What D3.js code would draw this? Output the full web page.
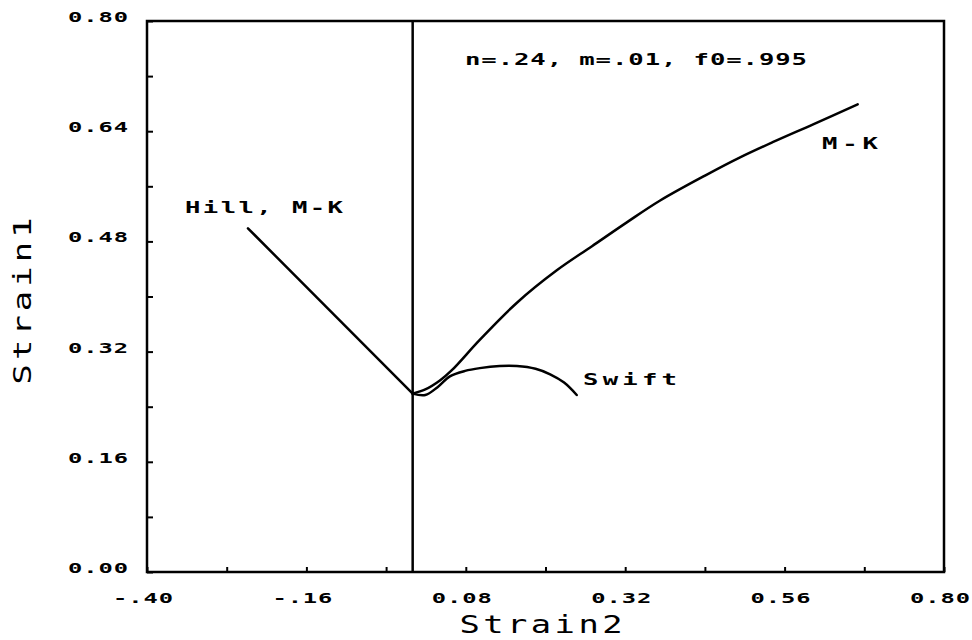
<!DOCTYPE html>
<html>
<head>
<meta charset="utf-8">
<script src="https://cdn.jsdelivr.net/npm/d3@7"></script>
<style>
  html, body { margin: 0; padding: 0; background: #fff; }
  svg { display: block; }
  text { font-family: "DejaVu Sans Mono", "Liberation Mono", monospace; fill: #000; }
</style>
</head>
<body>
<svg id="chart" width="972" height="640"></svg>
<script>
// Forming limit diagram: major strain (Strain1) vs minor strain (Strain2)

// Axis ticks
const xTicks = [-0.40, -0.28, -0.16, -0.04, 0.08, 0.20, 0.32, 0.44, 0.56, 0.68, 0.80];
const xLabelValues = [-0.40, -0.16, 0.08, 0.32, 0.56, 0.80];
const xLabelText = ["-.40", "-.16", "0.08", "0.32", "0.56", "0.80"];
const yTicks = [0.00, 0.08, 0.16, 0.24, 0.32, 0.40, 0.48, 0.56, 0.64, 0.72, 0.80];
const yLabelValues = [0.00, 0.16, 0.32, 0.48, 0.64, 0.80];
const yLabelText = ["0.00", "0.16", "0.32", "0.48", "0.64", "0.80"];

// Hill criterion (left-hand side), also the M-K result there
const hillStrain2 = [-0.248, 0.000];
const hillStrain1 = [0.499, 0.259];

// Marciniak-Kuczynski prediction (right-hand side)
const mkStrain2 = [0.000, 0.019, 0.041, 0.059, 0.101, 0.157, 0.217, 0.270, 0.323, 0.372, 0.443, 0.493, 0.542, 0.603, 0.670];
const mkStrain1 = [0.259, 0.265, 0.278, 0.293, 0.337, 0.391, 0.438, 0.473, 0.508, 0.539, 0.577, 0.602, 0.624, 0.650, 0.679];

// Swift criterion
const swiftStrain2 = [0.000, 0.019, 0.037, 0.056, 0.079, 0.101, 0.131, 0.157, 0.185, 0.207, 0.228, 0.247];
const swiftStrain1 = [0.259, 0.257, 0.268, 0.284, 0.292, 0.296, 0.299, 0.299, 0.295, 0.287, 0.275, 0.257];

// Plane-strain reference line
const planeStrain2 = 0.0;

const paramText = "n=.24, m=.01, f0=.995";

const svg = d3.select("#chart");
const plotLeft = 147, plotRight = 944, plotTop = 21, plotBottom = 572;

const x = d3.scaleLinear().domain([-0.40, 0.80]).range([plotLeft, plotRight]);
const y = d3.scaleLinear().domain([0.00, 0.80]).range([plotBottom, plotTop]);

const ink = "#000";
const lw = 2.5;

// Plotter-style text: monospace glyphs stretched horizontally, fitted to a width
function plotText(px, py, str, o) {
  const g = svg.append("g")
    .attr("transform", `translate(${px},${py}) rotate(${o.rotate || 0}) scale(${o.sx},1)`);
  const t = g.append("text")
    .attr("x", 0).attr("y", 0)
    .attr("text-anchor", o.anchor || "start")
    .attr("font-size", o.size)
    .attr("font-weight", o.weight || "bold")
    .text(str);
  if (o.width) {
    t.attr("textLength", o.width / o.sx).attr("lengthAdjust", "spacing");
  }
  return t;
}

// Frame
svg.append("rect")
  .attr("x", plotLeft).attr("y", plotTop)
  .attr("width", plotRight - plotLeft).attr("height", plotBottom - plotTop)
  .attr("fill", "none").attr("stroke", ink).attr("stroke-width", lw);

// Inward ticks
const xAxis = d3.axisBottom(x).tickValues(xTicks).tickSize(-5).tickFormat("");
const yAxis = d3.axisLeft(y).tickValues(yTicks).tickSize(-6).tickFormat("");
const gx = svg.append("g").attr("transform", `translate(0,${plotBottom})`).call(xAxis);
const gy = svg.append("g").attr("transform", `translate(${plotLeft},0)`).call(yAxis);
[gx, gy].forEach(g => {
  g.select(".domain").remove();
  g.selectAll(".tick line").attr("stroke", ink).attr("stroke-width", 2);
});

// Tick labels
xLabelValues.forEach((v, i) => {
  plotText(x(v) - 4, 603, xLabelText[i], { size: 14, sx: 1.7, anchor: "middle", width: 60 });
});
yLabelValues.forEach((v, i) => {
  plotText(128, y(v) + 1, yLabelText[i], { size: 14, sx: 1.7, anchor: "end", width: 60 });
});

// Axis titles
plotText(541, 633, "Strain2", { size: 25, sx: 1.35, anchor: "middle", weight: "normal", width: 163 });
plotText(31, 301, "Strain1", { size: 25, sx: 1.35, anchor: "middle", weight: "normal", width: 167, rotate: -90 });

// Plane-strain vertical line
svg.append("line")
  .attr("x1", x(planeStrain2)).attr("x2", x(planeStrain2))
  .attr("y1", y(0)).attr("y2", y(0.80))
  .attr("stroke", ink).attr("stroke-width", lw);

const line = d3.line()
  .x(d => x(d[0]))
  .y(d => y(d[1]))
  .curve(d3.curveCatmullRom.alpha(0.5));

const zip = (a, b) => a.map((v, i) => [v, b[i]]);

[zip(hillStrain2, hillStrain1), zip(mkStrain2, mkStrain1), zip(swiftStrain2, swiftStrain1)]
  .forEach(pts => {
    svg.append("path")
      .attr("d", line(pts))
      .attr("fill", "none")
      .attr("stroke", ink)
      .attr("stroke-width", lw)
      .attr("stroke-linejoin", "round")
      .attr("stroke-linecap", "round");
  });

// Curve labels and material parameters
plotText(185, 213, "Hill, M-K", { size: 16, sx: 1.6, width: 158 });
plotText(822, 149, "M-K", { size: 16, sx: 1.6, width: 56 });
plotText(583, 385, "Swift", { size: 16, sx: 1.6, width: 94 });
plotText(465, 65, paramText, { size: 16, sx: 1.6, width: 342 });
</script>
</body>
</html>
